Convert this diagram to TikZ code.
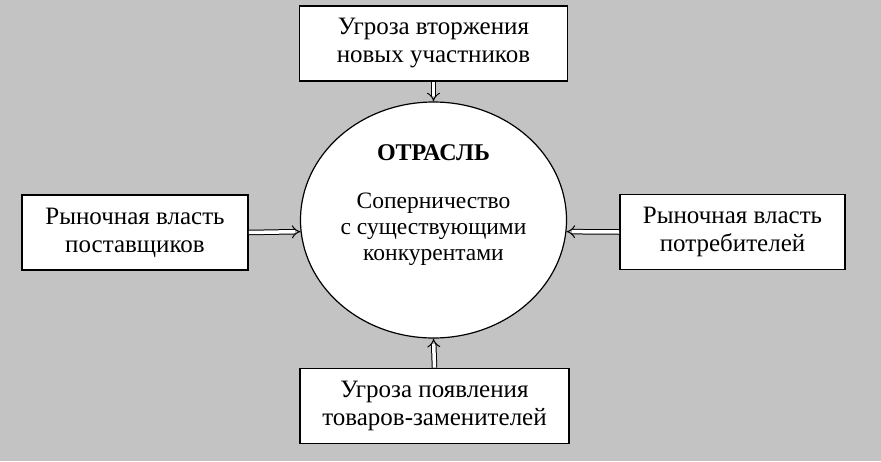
\documentclass[tikz,border=0pt]{standalone}
\usepackage{fontspec}
\setmainfont{Liberation Serif}
\usetikzlibrary{arrows.meta,shapes.geometric}
\definecolor{bg}{RGB}{195,195,195}
\begin{document}
\begin{tikzpicture}[x=1pt,y=-1pt,
  box/.style={draw=black,line width=1.6pt,fill=white,minimum width=#1,minimum height=75pt,inner sep=0pt,align=center,font=\fontsize{25}{28}\selectfont},
  box/.default=268pt,
  dbl/.style={double=white,double distance=3.5pt,line width=1pt,-{Implies[length=5pt]}}]
\useasboundingbox (0,0) rectangle (881,461);
\fill[bg] (0,0) rectangle (881,461);
\node[box=268pt] (top) at (433.5,43.5) {Угроза вторжения\\новых участников};
\node[box=226pt] (left) at (135,232.5) {Рыночная власть\\поставщиков};
\node[box=225pt] (right) at (732.5,232) {Рыночная власть\\потребителей};
\node[box=269pt] (bot) at (434.5,406) {Угроза появления\\товаров-заменителей};
\node[draw=black,line width=1.2pt,fill=white,ellipse,minimum width=266pt,minimum height=236pt,inner sep=0pt] (c) at (433.5,220) {};
\node[font=\bfseries\fontsize{24}{26}\selectfont] (t1) at (433.5,153) {ОТРАСЛЬ};
\node[align=center,font=\fontsize{23.5}{26}\selectfont] (t2) at (433.5,229) {Соперничество\\с существующими\\конкурентами};
\draw[dbl] (top.south) -- (c.north);
\draw[dbl] (bot.north) -- (c.south);
\draw[dbl] (left.east) -- (c.185.6);
\draw[dbl] (right.west) -- (c.-5.6);
\end{tikzpicture}
\end{document}
